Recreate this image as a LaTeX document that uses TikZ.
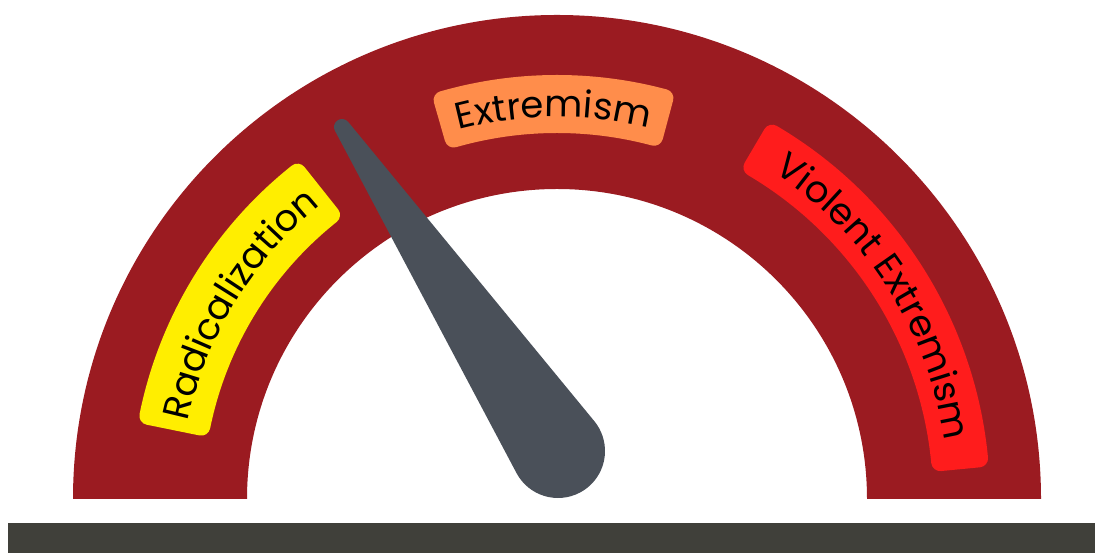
\documentclass[tikz,border=0pt]{standalone}
\usepackage{fontspec}
\newfontfamily\tagfont{Poppins}
\usetikzlibrary{calc, decorations.text}
\definecolor{Gauge_Maroon}{HTML}{9B1B21}
\definecolor{Gauge_Yellow}{HTML}{FFEE00}
\definecolor{Gauge_Orange}{HTML}{FF8D4B}
\definecolor{Gauge_Red}{HTML}{FF1C1C}
\definecolor{Gauge_Slate}{HTML}{4A5059}
\definecolor{Gauge_Floor}{HTML}{40403A}

% curved label: color, start angle, end angle, inner radius, outer radius
\newcommand{\gaugetag}[5]{%
  \filldraw[tag, draw=#1, fill=#1] ($(hub)+(#2:#4+9)$) arc[start angle=#2, end angle=#3, radius=#4+9]
    -- ($(hub)+(#3:#5-9)$) arc[start angle=#3, end angle=#2, radius=#5-9] -- cycle;}

\begin{document}
\begin{tikzpicture}[
    x=1pt, y=1pt,
    band/.style={fill=Gauge_Maroon},
    tag/.style={line width=18pt, line join=round},
    tagtext/.style={decorate, decoration={text along path, text align=center,
      text={|\tagfont\fontsize{37}{42}\selectfont|#1}}}
]
\useasboundingbox (0,0) rectangle (1095,553);
\coordinate (hub) at (557,54);
\coordinate (pivot) at (558,102);
\coordinate (tip) at (342,426);

% floor bar
\fill[Gauge_Floor] (8,0) rectangle (1095,30);

% gauge band
\fill[band] ($(hub)+(180:484)$) arc[start angle=180, end angle=0, radius=484]
  -- ($(hub)+(0:310)$) arc[start angle=0, end angle=180, radius=310] -- cycle;

% labels
\gaugetag{Gauge_Yellow}{168.5}{128.5}{354}{426}
\gaugetag{Gauge_Orange}{106}{75}{366}{424}
\gaugetag{Gauge_Red}{59.5}{5.5}{376}{433}

\path[tagtext={Radicalization}] ($(hub)+(171:377)$) arc[start angle=171, end angle=126, radius=377];
\path[tagtext={Extremism}] ($(hub)+(108:382)$) arc[start angle=108, end angle=73, radius=382];
\path[tagtext={Violent Extremism}] ($(hub)+(62:392)$) arc[start angle=62, end angle=3, radius=392];

% needle
\fill[Gauge_Slate] ($(pivot)+(39.45:47)$) -- ($(tip)+(39.45:8)$)
  arc[start angle=39.45, end angle=207.95, radius=8]
  -- ($(pivot)+(207.95:47)$) arc[start angle=207.95, end angle=399.45, radius=47] -- cycle;
\end{tikzpicture}
\end{document}
